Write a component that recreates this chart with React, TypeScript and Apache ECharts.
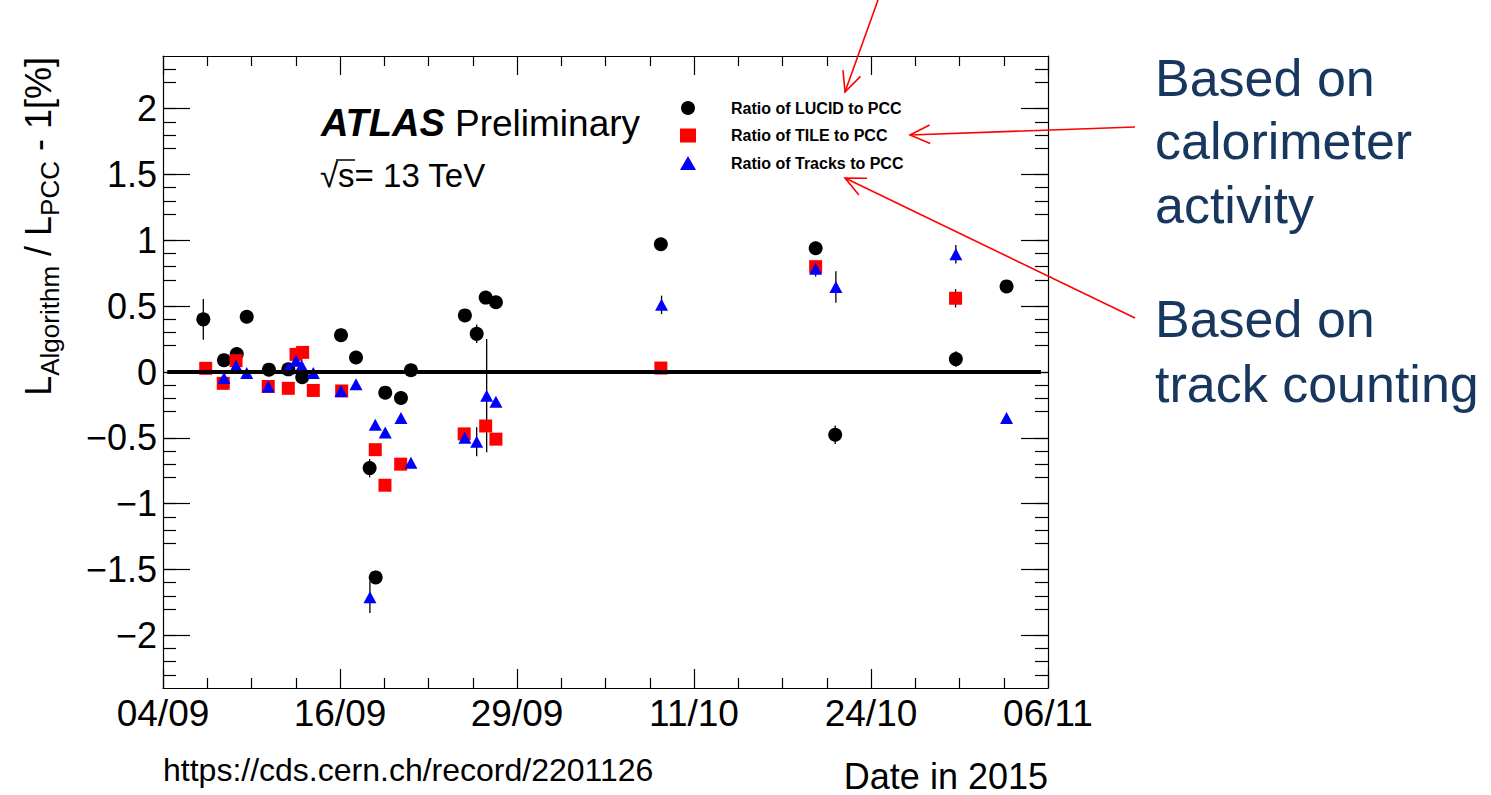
import React, { useEffect, useRef } from "react";
import * as echarts from "echarts";

// ---- axis definitions -------------------------------------------------------
const START_UTC = Date.UTC(2015, 8, 4); // 04/09/2015 = day 0
const X_MIN = 0;
const X_MAX = 63; // 06/11/2015
const X_STEP = 12.6;
const Y_MIN = -2.4;
const Y_MAX = 2.4;
const Y_MINOR_BASE = 0.5; // counted from Y_MIN; minor ticks every 0.1 land on the 0.1 grid
const yTickValues = [-2, -1.5, -1, -0.5, 0, 0.5, 1, 1.5, 2];

// ---- data (x = days since 04/09/2015, y = L_alg / L_PCC - 1 in %) ---------
const seriesNames = ["Ratio of LUCID to PCC", "Ratio of TILE to PCC", "Ratio of Tracks to PCC"];

const lucidDay = [2.87, 4.34, 5.25, 5.96, 7.54, 8.92, 9.91, 12.67, 13.74, 14.71, 15.14, 15.82, 16.94, 17.65, 21.49, 22.33, 22.97, 23.7, 35.44, 46.46, 47.85, 56.44, 60.05];
const lucidVal = [0.4, 0.09, 0.136, 0.42, 0.018, 0.02, -0.04, 0.28, 0.11, -0.73, -1.56, -0.157, -0.197, 0.013, 0.43, 0.29, 0.565, 0.53, 0.97, 0.94, -0.477, 0.098, 0.65];
const lucidErr = [0.155, 0.04, 0.05, 0.05, 0.04, 0.04, 0.05, 0.05, 0.05, 0.07, 0.05, 0.04, 0.05, 0.04, 0.04, 0.07, 0.04, 0.04, 0.04, 0.05, 0.07, 0.06, 0.04];

const tileDay = [3.04, 4.29, 5.2, 7.49, 8.92, 9.47, 9.94, 10.7, 12.72, 15.11, 15.8, 16.92, 21.44, 22.97, 23.7, 35.44, 46.46, 56.42];
const tileVal = [0.028, -0.086, 0.086, -0.11, -0.124, 0.134, 0.149, -0.14, -0.144, -0.59, -0.86, -0.7, -0.47, -0.41, -0.51, 0.03, 0.8, 0.56];
const tileErr = [0.03, 0.03, 0.03, 0.03, 0.03, 0.03, 0.03, 0.03, 0.03, 0.03, 0.03, 0.03, 0.03, 0.03, 0.03, 0.03, 0.04, 0.07];

const tracksDay = [4.34, 5.2, 5.96, 7.49, 8.92, 9.47, 9.87, 10.7, 12.67, 13.74, 14.73, 15.11, 15.82, 16.94, 17.65, 21.49, 22.33, 23.04, 23.7, 35.49, 46.46, 47.9, 56.44, 60.05];
const tracksVal = [-0.045, 0.048, -0.008, -0.11, 0.028, 0.086, 0.048, -0.008, -0.144, -0.093, -1.71, -0.4, -0.46, -0.35, -0.69, -0.5, -0.53, -0.18, -0.225, 0.51, 0.785, 0.646, 0.894, -0.35];
const tracksErr = [0.03, 0.03, 0.03, 0.03, 0.03, 0.03, 0.03, 0.03, 0.03, 0.03, 0.12, 0.03, 0.03, 0.03, 0.03, 0.03, 0.11, 0.43, 0.03, 0.07, 0.06, 0.12, 0.07, 0.03];

const ZERO_LINE_FROM = 0.3;
const ZERO_LINE_TO = 62.5;

// ---- styling ---------------------------------------------------------------
const FONT = '"Liberation Sans", Arial, Helvetica, sans-serif';
const NOTE_BLUE = "#17375E";
const ARROW_RED = "#FF0000";

function dayLabel(v: number): string {
  const d = new Date(START_UTC + (v + 1e-6) * 86400000);
  const dd = String(d.getUTCDate()).padStart(2, "0");
  const mm = String(d.getUTCMonth() + 1).padStart(2, "0");
  return `${dd}/${mm}`;
}

function yLabel(v: number): string {
  if (Math.abs(v) < 1e-9) return "0";
  const s = String(Math.round(Math.abs(v) * 10) / 10);
  return v < 0 ? "\u2212" + s : s;
}

function arrow(x1: number, y1: number, x2: number, y2: number): any[] {
  const dx = x1 - x2;
  const dy = y1 - y2;
  const len = Math.hypot(dx, dy);
  const ux = dx / len;
  const uy = dy / len;
  const a = (25 * Math.PI) / 180;
  const h = 22;
  const r1 = [ux * Math.cos(a) - uy * Math.sin(a), ux * Math.sin(a) + uy * Math.cos(a)];
  const r2 = [ux * Math.cos(-a) - uy * Math.sin(-a), ux * Math.sin(-a) + uy * Math.cos(-a)];
  const st = { stroke: ARROW_RED, lineWidth: 1.6 };
  return [
    { type: "line", shape: { x1, y1, x2, y2 }, style: st, z: 100 },
    {
      type: "polyline",
      shape: {
        points: [
          [x2 + r1[0] * h, y2 + r1[1] * h],
          [x2, y2],
          [x2 + r2[0] * h, y2 + r2[1] * h],
        ],
      },
      style: { ...st, fill: null },
      z: 100,
    },
  ];
}

function errData(day: number[], val: number[], err: number[]) {
  return day.map((d, i) => [d, val[i] - err[i], val[i] + err[i]]);
}

function errSeries(name: string, data: number[][]) {
  return {
    name,
    type: "custom",
    data,
    encode: { x: 0, y: [1, 2] },
    renderItem: (_p: any, api: any) => {
      const a = api.coord([api.value(0), api.value(1)]);
      const b = api.coord([api.value(0), api.value(2)]);
      return {
        type: "line",
        shape: { x1: a[0], y1: a[1], x2: b[0], y2: b[1] },
        style: { stroke: "#000", lineWidth: 1.3 },
      };
    },
    silent: true,
  };
}

export default function App() {
  const ref = useRef<HTMLDivElement>(null);

  useEffect(() => {
    if (!ref.current) return;
    const chart = echarts.init(ref.current, null, { renderer: "svg" });

    const xCommon = {
      type: "value",
      min: X_MIN,
      max: X_MAX,
      interval: X_STEP,
      axisLine: { show: true, onZero: false, lineStyle: { color: "#000", width: 1.2 } },
      axisTick: { show: true, inside: true, length: 19, lineStyle: { color: "#000", width: 1.2 } },
      minorTick: { show: true, splitNumber: 4, length: 10, lineStyle: { color: "#000", width: 1.2 } },
      splitLine: { show: false },
    };
    const yCommon = {
      type: "value",
      min: Y_MIN,
      max: Y_MAX,
      interval: Y_MINOR_BASE,
      axisLine: { show: true, onZero: false, lineStyle: { color: "#000", width: 1.2 } },
      axisTick: {
        show: true,
        inside: true,
        length: 27,
        customValues: yTickValues,
        lineStyle: { color: "#000", width: 1.2 },
      },
      minorTick: { show: true, splitNumber: 5, length: 13, lineStyle: { color: "#000", width: 1.2 } },
      splitLine: { show: false },
    };

    const option: any = {
      animation: false,
      backgroundColor: "#fff",
      textStyle: { fontFamily: FONT },
      grid: { left: 163, top: 56, right: 443, bottom: 107, containLabel: false },
      legend: {
        orient: "vertical",
        left: 675,
        top: 95,
        itemWidth: 16,
        itemHeight: 14,
        itemGap: 11.5,
        data: seriesNames,
        textStyle: {
          fontFamily: FONT,
          fontWeight: "bold",
          fontSize: 16,
          color: "#000",
          padding: [0, 0, 0, 30],
        },
      },
      xAxis: [
        {
          ...xCommon,
          position: "bottom",
          axisLabel: {
            show: true,
            margin: 7,
            fontSize: 37,
            color: "#000",
            fontFamily: FONT,
            showMinLabel: true,
            showMaxLabel: true,
            formatter: (v: number) => dayLabel(v),
          },
        },
        { ...xCommon, position: "top", axisLabel: { show: false } },
      ],
      yAxis: [
        {
          ...yCommon,
          position: "left",
          axisLabel: {
            show: true,
            margin: 6,
            fontSize: 36,
            color: "#000",
            fontFamily: FONT,
            customValues: yTickValues,
            formatter: (v: number) => yLabel(v),
          },
        },
        { ...yCommon, position: "right", axisLabel: { show: false } },
      ],
      series: [
        errSeries("lucidErr", errData(lucidDay, lucidVal, lucidErr)),
        {
          name: seriesNames[0],
          type: "scatter",
          symbol: "circle",
          symbolSize: 14,
          itemStyle: { color: "#000", opacity: 1 },
          data: lucidDay.map((d, i) => [d, lucidVal[i]]),
        },
        errSeries("tileErr", errData(tileDay, tileVal, tileErr)),
        {
          name: seriesNames[1],
          type: "scatter",
          symbol: "rect",
          symbolSize: 13,
          itemStyle: { color: "#FF0000", opacity: 1 },
          data: tileDay.map((d, i) => [d, tileVal[i]]),
        },
        errSeries("tracksErr", errData(tracksDay, tracksVal, tracksErr)),
        {
          name: seriesNames[2],
          type: "scatter",
          symbol: "triangle",
          symbolSize: [13, 12],
          itemStyle: { color: "#0000FF", opacity: 1 },
          data: tracksDay.map((d, i) => [d, tracksVal[i]]),
        },
        {
          name: "zero",
          type: "line",
          symbol: "none",
          silent: true,
          lineStyle: { color: "#000", width: 4 },
          data: [
            [ZERO_LINE_FROM, 0],
            [ZERO_LINE_TO, 0],
          ],
          z: 5,
        },
      ],
      graphic: [
        {
          type: "text",
          x: 321,
          y: 123,
          style: {
            text: "ATLAS",
            fontFamily: FONT,
            fontStyle: "italic",
            fontWeight: "bold",
            fontSize: 38,
            fill: "#000",
            verticalAlign: "middle",
          },
        },
        {
          type: "text",
          x: 455,
          y: 123,
          style: { text: "Preliminary", fontFamily: FONT, fontSize: 37, fill: "#000", verticalAlign: "middle" },
        },
        {
          type: "text",
          x: 320,
          y: 175,
          style: { text: "\u221As= 13 TeV", fontFamily: FONT, fontSize: 33, fill: "#000", verticalAlign: "middle" },
        },
        {
          type: "line",
          shape: { x1: 336, y1: 160, x2: 355, y2: 160 },
          style: { stroke: "#000", lineWidth: 1.5 },
        },
        {
          type: "text",
          x: 38,
          y: 57,
          rotation: Math.PI / 2,
          style: {
            text: "{m|L}{s|Algorithm}{m| / L}{s|PCC}{m| - 1[%]}",
            align: "right",
            verticalAlign: "middle",
            fill: "#000",
            rich: {
              m: { fontFamily: FONT, fontSize: 36, fill: "#000", verticalAlign: "middle" },
              s: { fontFamily: FONT, fontSize: 26, fill: "#000", verticalAlign: "middle", padding: [24, 0, 0, 0] },
            },
          },
        },
        {
          type: "text",
          x: 163,
          y: 770,
          style: { text: "https://cds.cern.ch/record/2201126", fontFamily: FONT, fontSize: 32, fill: "#000", verticalAlign: "middle" },
        },
        {
          type: "text",
          x: 1048,
          y: 776,
          style: { text: "Date in 2015", fontFamily: FONT, fontSize: 36, fill: "#000", align: "right", verticalAlign: "middle" },
        },
        {
          type: "text",
          x: 1155,
          y: 46,
          style: {
            text: "Based on\ncalorimeter\nactivity",
            fontFamily: FONT,
            fontSize: 52,
            lineHeight: 63.5,
            fill: NOTE_BLUE,
            verticalAlign: "top",
          },
        },
        {
          type: "text",
          x: 1155,
          y: 286,
          style: {
            text: "Based on\ntrack counting",
            fontFamily: FONT,
            fontSize: 52,
            lineHeight: 65,
            fill: NOTE_BLUE,
            verticalAlign: "top",
          },
        },
        ...arrow(878, 0, 845, 92),
        ...arrow(1135, 127, 910, 135),
        ...arrow(1135, 318, 845, 178),
      ],
    };

    chart.setOption(option);
    return () => chart.dispose();
  }, []);

  return <div ref={ref} style={{ position: "fixed", left: 0, top: 0, width: 1491, height: 795 }} />;
}
